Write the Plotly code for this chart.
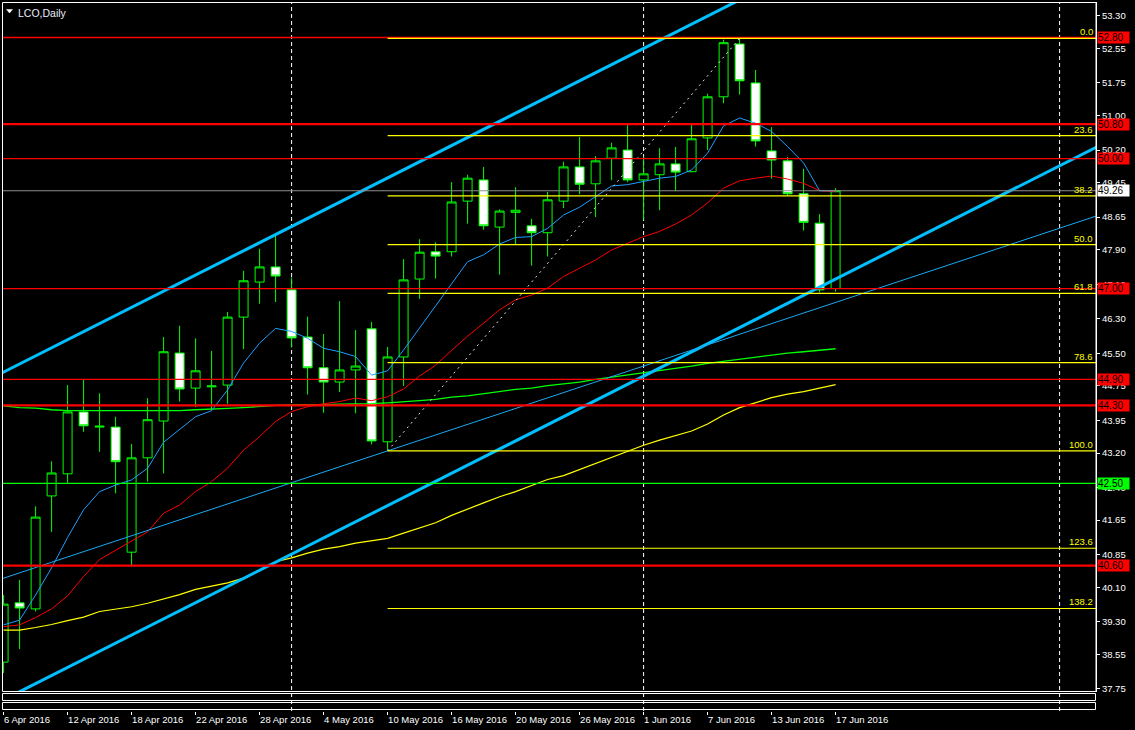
import plotly.graph_objects as go

# ---------------- data ----------------
YEAR = "2016"
DATES = ["6 Apr", "7 Apr", "8 Apr", "11 Apr", "12 Apr", "13 Apr", "14 Apr", "15 Apr", "18 Apr", "19 Apr",
         "20 Apr", "21 Apr", "22 Apr", "25 Apr", "26 Apr", "27 Apr", "28 Apr", "29 Apr", "2 May", "3 May",
         "4 May", "5 May", "6 May", "9 May", "10 May", "11 May", "12 May", "13 May", "16 May", "17 May",
         "18 May", "19 May", "20 May", "23 May", "24 May", "25 May", "26 May", "27 May", "30 May", "31 May",
         "1 Jun", "2 Jun", "3 Jun", "6 Jun", "7 Jun", "8 Jun", "9 Jun", "10 Jun", "13 Jun", "14 Jun",
         "15 Jun", "16 Jun", "17 Jun"]

OPEN = [38.37, 39.74, 39.60, 42.21, 42.72, 44.15, 43.80, 43.80, 40.91, 43.09,
        43.94, 45.51, 44.70, 44.73, 44.77, 46.34, 47.15, 47.50, 46.97, 45.88,
        45.17, 44.84, 45.12, 46.07, 43.46, 45.42, 47.22, 47.85, 47.85, 49.02,
        49.51, 48.42, 48.76, 48.45, 48.29, 49.02, 49.81, 49.42, 50.01, 50.20,
        49.51, 49.63, 49.88, 49.70, 50.48, 51.43, 52.65, 51.75, 50.18, 49.95,
        49.19, 48.51, 47.00]
HIGH = [39.92, 40.27, 41.97, 43.01, 44.77, 44.89, 44.58, 44.04, 43.41, 44.47,
        45.88, 46.14, 45.85, 45.56, 46.46, 47.41, 47.92, 48.22, 47.26, 46.35,
        45.95, 46.71, 46.04, 46.23, 45.65, 47.68, 48.14, 48.07, 49.46, 49.63,
        49.81, 48.83, 49.34, 48.61, 49.23, 49.93, 50.50, 50.06, 50.37, 50.78,
        50.05, 50.24, 50.27, 50.78, 51.50, 52.75, 52.77, 52.05, 50.73, 50.04,
        49.77, 48.72, 49.32]
LOW = [38.12, 38.67, 39.54, 41.38, 42.51, 43.69, 43.23, 42.27, 40.58, 42.54,
       42.73, 44.39, 44.26, 44.20, 44.34, 45.60, 46.65, 46.69, 45.64, 44.55,
       44.13, 44.61, 44.12, 43.40, 43.25, 44.75, 46.76, 47.23, 47.74, 48.50,
       48.36, 47.32, 48.03, 47.53, 47.74, 48.86, 49.18, 48.65, 49.50, 49.46,
       48.59, 48.81, 49.25, 49.69, 50.20, 51.28, 51.48, 50.28, 49.54, 49.14,
       48.34, 46.91, 46.93]
CLOSE = [39.71, 39.62, 41.72, 42.74, 44.15, 43.83, 43.82, 43.00, 43.09, 43.97,
         45.54, 44.68, 45.10, 44.75, 46.34, 47.18, 47.50, 47.29, 45.86, 45.17,
         44.84, 45.12, 45.21, 43.48, 45.42, 47.20, 47.84, 47.75, 49.00, 49.55,
         48.45, 48.79, 48.81, 48.29, 49.05, 49.81, 49.41, 49.95, 50.25, 49.51,
         49.65, 49.88, 49.69, 50.46, 51.43, 52.68, 51.80, 50.41, 49.97, 49.19,
         48.53, 46.97, 49.26]

MA_FAST = [39.23, 39.34, 39.92, 40.55, 41.25, 41.89, 42.31, 42.46, 42.58, 42.85,
           43.45, 43.74, 44.04, 44.18, 44.66, 45.28, 45.74, 46.08, 46.01, 45.85,
           45.62, 45.54, 45.43, 45.00, 45.10, 45.58, 46.08, 46.60, 47.11, 47.62,
           47.78, 48.03, 48.18, 48.20, 48.39, 48.70, 48.88, 49.13, 49.37, 49.40,
           49.47, 49.55, 49.59, 49.74, 50.13, 50.76, 50.94, 50.82, 50.63, 50.28,
           49.90, 49.26, 49.26]
MA_MID = [39.19, 39.23, 39.40, 39.60, 39.90, 40.35, 40.74, 40.95, 41.16, 41.38,
          41.81, 42.00, 42.31, 42.54, 42.85, 43.27, 43.58, 43.93, 44.16, 44.27,
          44.34, 44.39, 44.47, 44.41, 44.50, 44.68, 44.98, 45.23, 45.57, 45.90,
          46.20, 46.51, 46.74, 46.85, 47.01, 47.28, 47.47, 47.66, 47.89, 48.05,
          48.20, 48.32, 48.49, 48.70, 48.98, 49.32, 49.49, 49.55, 49.60, 49.53,
          49.43, 49.26, 49.24]
MA_SLOW = [44.29, 44.25, 44.24, 44.20, 44.18, 44.18, 44.18, 44.18, 44.18, 44.18,
           44.18, 44.18, 44.20, 44.21, 44.23, 44.25, 44.28, 44.30, 44.31, 44.31,
           44.32, 44.33, 44.33, 44.34, 44.36, 44.38, 44.41, 44.44, 44.49, 44.52,
           44.57, 44.62, 44.67, 44.70, 44.76, 44.80, 44.84, 44.90, 44.95, 45.00,
           45.06, 45.11, 45.16, 45.21, 45.27, 45.32, 45.37, 45.41, 45.47, 45.51,
           45.54, 45.57, 45.61]
MA_LONG = [39.11, 39.11, 39.17, 39.24, 39.33, 39.41, 39.54, 39.60, 39.65, 39.73,
           39.83, 39.93, 40.05, 40.12, 40.20, 40.31, 40.50, 40.69, 40.78, 40.89,
           40.98, 41.04, 41.12, 41.17, 41.23, 41.35, 41.47, 41.59, 41.76, 41.91,
           42.05, 42.19, 42.31, 42.45, 42.59, 42.68, 42.82, 42.95, 43.09, 43.23,
           43.38, 43.50, 43.61, 43.71, 43.87, 44.08, 44.25, 44.36, 44.48, 44.56,
           44.62, 44.70, 44.78]

PRICE_TICKS = [53.30, 52.55, 51.75, 51.00, 50.20, 49.45, 48.65, 47.90, 47.10, 46.30,
               45.50, 44.75, 43.95, 43.20, 42.40, 41.65, 40.85, 40.10, 39.30, 38.55, 37.75]

RED_LEVELS_THIN = [52.80, 50.00, 47.00, 44.90]
RED_LEVELS_THICK = [50.80, 44.30, 40.60]
GREEN_LEVELS = [42.50]
LAST_PRICE = 49.26

FIB_LOW = ("10 May", 43.25)
FIB_HIGH = ("9 Jun", 52.78)
FIB_RATIOS = [0.0, 23.6, 38.2, 50.0, 61.8, 78.6, 100.0, 123.6, 138.2]

CHANNEL_LOWER = [("6 Apr", 37.50), ("17 Jun", 47.22)]
CHANNEL_UPPER = [("6 Apr", 45.07), ("17 Jun", 54.79)]
TREND_THIN = [("10 May", 43.25), ("17 Jun", 46.68)]

MONTH_STARTS = ["2 May", "1 Jun"]
FUTURE_MONTH_START_DAYS = 14   # 1 Jul, 14 calendar days after the last bar

# ---------------- layout constants ----------------
FONT = "Liberation Sans"
W, H = 1135, 730
ML, MR, MT, MB = 2, 39, 2, 19
PLOT_H = H - MT - MB


def py2paper(py):
    return (H - MB - py) / PLOT_H


def px2paper(px):
    return (px - ML) / (W - ML - MR)


MAIN_BOTTOM = py2paper(692)
X_RANGE = [-0.1, -0.1 + (W - ML - MR) / 16.0]
Y_RANGE = [37.68, 53.62]

idx = {d: i for i, d in enumerate(DATES)}
X = list(range(len(DATES)))


def extend(anchors):
    (d1, p1), (d2, p2) = anchors
    i1, i2 = idx[d1], idx[d2]
    slope = (p2 - p1) / (i2 - i1)
    xs = [X_RANGE[0] - 2, X_RANGE[1] + 2]
    return xs, [p1 + (x - i1) * slope for x in xs]


fig = go.Figure()

fig.add_trace(go.Candlestick(
    x=X, open=OPEN, high=HIGH, low=LOW, close=CLOSE,
    increasing=dict(line=dict(color="#00FF00", width=1), fillcolor="#000000"),
    decreasing=dict(line=dict(color="#00FF00", width=1), fillcolor="#FFFFFF"),
    whiskerwidth=0, showlegend=False, hoverinfo="skip"))

for vals, col, wd in [(MA_LONG, "#FFFF00", 1.2), (MA_SLOW, "#00FF00", 1.3),
                      (MA_MID, "#FF0000", 1), (MA_FAST, "#1E9FFF", 1)]:
    fig.add_trace(go.Scatter(x=X, y=vals, mode="lines", line=dict(color=col, width=wd),
                             showlegend=False, hoverinfo="skip"))

for anchors, col, wd in [(CHANNEL_UPPER, "#00BFFF", 3), (CHANNEL_LOWER, "#00BFFF", 3),
                         (TREND_THIN, "#19AAF5", 1)]:
    xs, ys = extend(anchors)
    fig.add_trace(go.Scatter(x=xs, y=ys, mode="lines", line=dict(color=col, width=wd),
                             showlegend=False, hoverinfo="skip"))

# fibonacci diagonal
fig.add_trace(go.Scatter(x=[idx[FIB_LOW[0]], idx[FIB_HIGH[0]]], y=[FIB_LOW[1], FIB_HIGH[1]],
                         mode="lines", line=dict(color="#E0E0E0", width=1, dash="2px,4px"),
                         showlegend=False, hoverinfo="skip"))

shapes = []
annotations = []

# month separators
seps = [idx[d] for d in MONTH_STARTS] + [len(DATES) - 1 + FUTURE_MONTH_START_DAYS]
for s in seps:
    shapes.append(dict(type="line", xref="x", yref="paper", x0=s, x1=s, y0=0, y1=1,
                       line=dict(color="#FFFFFF", width=1, dash="4px,3px"), layer="below"))

# horizontal levels
for lv in RED_LEVELS_THIN:
    shapes.append(dict(type="line", xref="paper", yref="y", x0=0, x1=1, y0=lv, y1=lv,
                       line=dict(color="#FF0000", width=1.3), layer="above"))
for lv in RED_LEVELS_THICK:
    shapes.append(dict(type="line", xref="paper", yref="y", x0=0, x1=1, y0=lv, y1=lv,
                       line=dict(color="#FF0000", width=2.2), layer="above"))
for lv in GREEN_LEVELS:
    shapes.append(dict(type="line", xref="paper", yref="y", x0=0, x1=1, y0=lv, y1=lv,
                       line=dict(color="#00FF00", width=1.2), layer="above"))
shapes.append(dict(type="line", xref="paper", yref="y", x0=0, x1=1, y0=LAST_PRICE, y1=LAST_PRICE,
                   line=dict(color="#8E8E8E", width=1.2), layer="above"))

# fibonacci levels
fib_span = FIB_HIGH[1] - FIB_LOW[1]
for r in FIB_RATIOS:
    lv = FIB_HIGH[1] - r / 100.0 * fib_span
    shapes.append(dict(type="line", xref="x", yref="y", x0=idx[FIB_LOW[0]], x1=X_RANGE[1] + 1,
                       y0=lv, y1=lv, line=dict(color="#FFFF00", width=1.2), layer="above"))
    annotations.append(dict(xref="paper", x=1, xanchor="right", xshift=-1, yref="y", y=lv,
                            yanchor="bottom", yshift=-1, text=f"{r:.1f}", showarrow=False,
                            font=dict(color="#FFFF00", size=9.5, family=FONT)))

# frames (pixel-centred so that the 1px lines stay crisp)
shapes.append(dict(type="rect", xref="paper", yref="paper", x0=px2paper(2.5), x1=1,
                   y0=py2paper(691.5), y1=py2paper(2.5),
                   line=dict(color="#FFFFFF", width=1), layer="above"))
shapes.append(dict(type="rect", xref="paper", yref="paper", x0=px2paper(2.5), x1=px2paper(1095.5),
                   y0=py2paper(700.5), y1=py2paper(693.5),
                   line=dict(color="#FFFFFF", width=1), layer="above"))
shapes.append(dict(type="rect", xref="paper", yref="paper", x0=px2paper(2.5), x1=px2paper(1095.5),
                   y0=py2paper(709.5), y1=py2paper(702.5),
                   line=dict(color="#FFFFFF", width=1), layer="above"))
# title triangle
shapes.append(dict(type="path", xref="paper", yref="paper",
                   path=f"M {px2paper(6.5)},{py2paper(9.5)} L {px2paper(12.5)},{py2paper(9.5)} "
                        f"L {px2paper(9.5)},{py2paper(13)} Z",
                   fillcolor="#FFFFFF", line=dict(color="#FFFFFF", width=0.5)))


def price_box(v, bg):
    return dict(xref="paper", x=1, xanchor="left", xshift=1, yref="y", y=v, yanchor="middle",
                text=f"{v:.2f}", showarrow=False, bgcolor=bg, width=31, height=11, align="left",
                borderpad=0, font=dict(color="#000000", size=10, family=FONT))


for lv in RED_LEVELS_THIN + RED_LEVELS_THICK:
    annotations.append(price_box(lv, "#FF0000"))
for lv in GREEN_LEVELS:
    annotations.append(price_box(lv, "#00FF00"))
annotations.append(price_box(LAST_PRICE, "#FFFFFF"))

annotations.append(dict(xref="paper", x=0, xanchor="left", xshift=14, yref="paper", y=1,
                        yanchor="top", yshift=-3, text="LCO,Daily", showarrow=False,
                        font=dict(color="#E8EEF8", size=10.5, family=FONT)))

tick_idx = list(range(0, len(DATES), 4))
fig.update_layout(
    width=W, height=H,
    margin=dict(l=ML, r=MR, t=MT, b=MB),
    paper_bgcolor="#000000", plot_bgcolor="#000000",
    showlegend=False, boxgap=0.44, boxgroupgap=0,
    xaxis=dict(range=X_RANGE, tickvals=tick_idx,
               ticktext=[f"{DATES[i]} {YEAR}" for i in tick_idx],
               ticks="outside", ticklen=3, tickcolor="#FFFFFF", tickwidth=1,
               tickfont=dict(color="#FFFFFF", size=9.5, family=FONT),
               ticklabelposition="outside right",
               showgrid=False, zeroline=False, showline=False,
               anchor="free", position=0, rangeslider=dict(visible=False), fixedrange=True),
    yaxis=dict(range=Y_RANGE, domain=[MAIN_BOTTOM, 1], side="right",
               tickvals=PRICE_TICKS, ticktext=[f"{v:.2f}" for v in PRICE_TICKS],
               ticks="outside", ticklen=3, tickcolor="#FFFFFF",
               tickfont=dict(color="#FFFFFF", size=9.5, family=FONT),
               showgrid=False, zeroline=False, showline=True, linecolor="#FFFFFF", linewidth=1,
               fixedrange=True),
    shapes=shapes, annotations=annotations,
)

fig.write_html("out.html")
